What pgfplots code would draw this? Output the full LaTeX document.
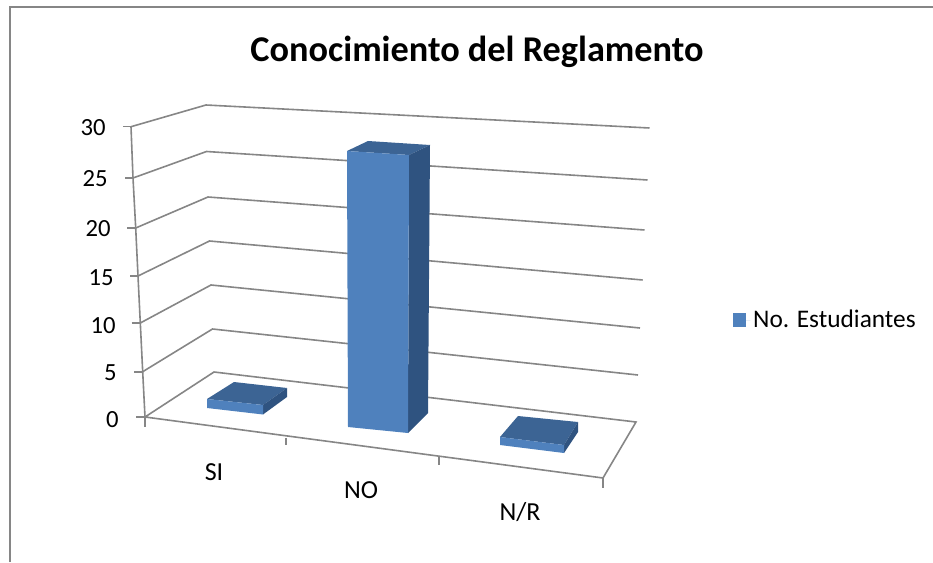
\documentclass[border=0pt]{standalone}
\usepackage{fontspec}
\setmainfont{Carlito}
\usepackage{pgfplots}
\pgfplotsset{compat=1.18}
\definecolor{gridc}{HTML}{868686}
\definecolor{frontc}{HTML}{4F81BD}
\definecolor{topc}{HTML}{3C6494}
\definecolor{sidec}{HTML}{2F5380}
\tikzset{lab/.style={font=\fontsize{18.5}{18.5}\selectfont, inner sep=0pt}}
\tikzset{cat/.style={font=\fontsize{19.5}{19.5}\selectfont, inner sep=0pt}}
\begin{document}
\begin{tikzpicture}
\begin{axis}[
  hide axis, clip=false,
  x={(0.75pt,0pt)}, y={(0pt,0.75pt)}, z={(0pt,7.2525pt)},
  xmin=0, xmax=933, ymin=0, ymax=562, zmin=0, zmax=30,
  grid=none,
  every axis plot/.append style={mark=none},
  gl/.style={draw=gridc, line width=1.2pt},
  legend style={at={(axis description cs:0.7855,0.284)}, anchor=west, draw=none, fill=none,
    font=\fontsize{19}{19}\selectfont, inner sep=0pt, legend cell align=left},
  legend image code/.code={\path (0pt,0pt) -- (13pt,0pt);\fill[frontc] (0pt,-5.6pt) rectangle (10pt,5.6pt);},
]
% outer frame
\addplot3[draw=gridc, line width=1.6pt, forget plot] coordinates {(10.2,0,0) (10.2,555.2,0) (933,555.2,0)};
% walls: left front -> back left -> back right
\addplot3[gl, forget plot] coordinates {(131,145.2,30) (206,166.9,30) (649.5,143.9,30)};
\addplot3[gl, forget plot] coordinates {(133,142.25,25) (206.5,168.75,25) (647.5,140.25,25)};
\addplot3[gl, forget plot] coordinates {(135.7,140.6,20) (208,171.6,20) (644.5,138.6,20)};
\addplot3[gl, forget plot] coordinates {(138,140.95,15) (209.5,175.95,15) (642.7,136.95,15)};
\addplot3[gl, forget plot] coordinates {(140.3,142.3,10) (211,180.3,10) (640,137.3,10)};
\addplot3[gl, forget plot] coordinates {(142.7,141.95,5) (212.5,184.65,5) (638,138.65,5)};
% floor
\addplot3[gl, forget plot] coordinates {(145,145,0) (214,190,0) (636,140,0) (603,84,0) (145,145,0)};
% value axis and its ticks
\addplot3[gl, forget plot] coordinates {(131,145.2,30) (133,142.25,25) (135.7,140.6,20) (138,140.95,15) (140.3,142.3,10) (142.7,141.95,5) (145,145,0)};
\addplot3[gl, forget plot] coordinates {(123,145.2,30) (131,145.2,30)};
\addplot3[gl, forget plot] coordinates {(125,142.25,25) (133,142.25,25)};
\addplot3[gl, forget plot] coordinates {(127,140.6,20) (135.7,140.6,20)};
\addplot3[gl, forget plot] coordinates {(130,140.95,15) (138,140.95,15)};
\addplot3[gl, forget plot] coordinates {(131.7,142.3,10) (140.3,142.3,10)};
\addplot3[gl, forget plot] coordinates {(134,141.95,5) (142.7,141.95,5)};
\addplot3[gl, forget plot] coordinates {(136,145,0) (145,145,0)};
% category ticks
\addplot3[gl, forget plot] coordinates {(145,145,0) (145,135,0)};
\addplot3[gl, forget plot] coordinates {(286,124,0) (286,117,0)};
\addplot3[gl, forget plot] coordinates {(439,105,0) (439,97,0)};
\addplot3[gl, forget plot] coordinates {(603,84,0) (603,74,0)};
% SI = 1
\addplot3[fill=topc, draw=none, forget plot] coordinates {(207,153.33,1) (263,147.33,1) (287,164.33,1) (234,170.33,1) (207,153.33,1)};
\addplot3[fill=sidec, draw=none, forget plot] coordinates {(263,147.5,0) (287,165,0) (287,164.33,1) (263,147.33,1) (263,147.5,0)};
\addplot3[fill=frontc, draw=none, forget plot] coordinates {(207,154,0) (263,147.5,0) (263,147.33,1) (207,153.33,1) (207,154,0)};
% NO = 29
\addplot3[fill=topc, draw=none, forget plot] coordinates {(347,130.57,29) (409,126.57,29) (430,136.57,29) (368,140.57,29) (347,130.57,29)};
\addplot3[fill=sidec, draw=none, forget plot] coordinates {(408,129,0) (428,149,0) (430,136.57,29) (409,126.57,29) (408,129,0)};
\addplot3[fill=frontc, draw=none, forget plot] coordinates {(348,135,0) (408,129,0) (409,126.57,29) (347,130.57,29) (348,135,0)};
% N/R = 1
\addplot3[fill=topc, draw=none, forget plot] coordinates {(500,115.33,1) (564,107.33,1) (578,130.33,1) (518,136.33,1) (500,115.33,1)};
\addplot3[fill=sidec, draw=none, forget plot] coordinates {(564,109,0) (578,130,0) (578,130.33,1) (564,107.33,1) (564,109,0)};
\addplot3[fill=frontc, draw=none] coordinates {(500,117,0) (564,109,0) (564,107.33,1) (500,115.33,1) (500,117,0)};
\addlegendentry{No. Estudiantes}
% text
\node[font=\bfseries\fontsize{27.2}{27.2}\selectfont] at (axis cs:477,510,0) {Conocimiento del Reglamento};
\node[lab, anchor=east] at (axis cs:106,434,0) {30};
\node[lab, anchor=east] at (axis cs:108,383,0) {25};
\node[lab, anchor=east] at (axis cs:111,333,0) {20};
\node[lab, anchor=east] at (axis cs:114,284,0) {15};
\node[lab, anchor=east] at (axis cs:116,236,0) {10};
\node[lab, anchor=east] at (axis cs:117,189,0) {5};
\node[lab, anchor=east] at (axis cs:119,142,0) {0};
\node[cat] at (axis cs:214,90,0) {SI};
\node[cat] at (axis cs:361,72,0) {NO};
\node[cat] at (axis cs:520,50,0) {N/R};
\coordinate (bbA) at (axis cs:0,0,0);
\coordinate (bbB) at (axis cs:933,562,0);
\end{axis}
\pgfresetboundingbox
\path[use as bounding box] (bbA) rectangle (bbB);
\end{tikzpicture}
\end{document}
